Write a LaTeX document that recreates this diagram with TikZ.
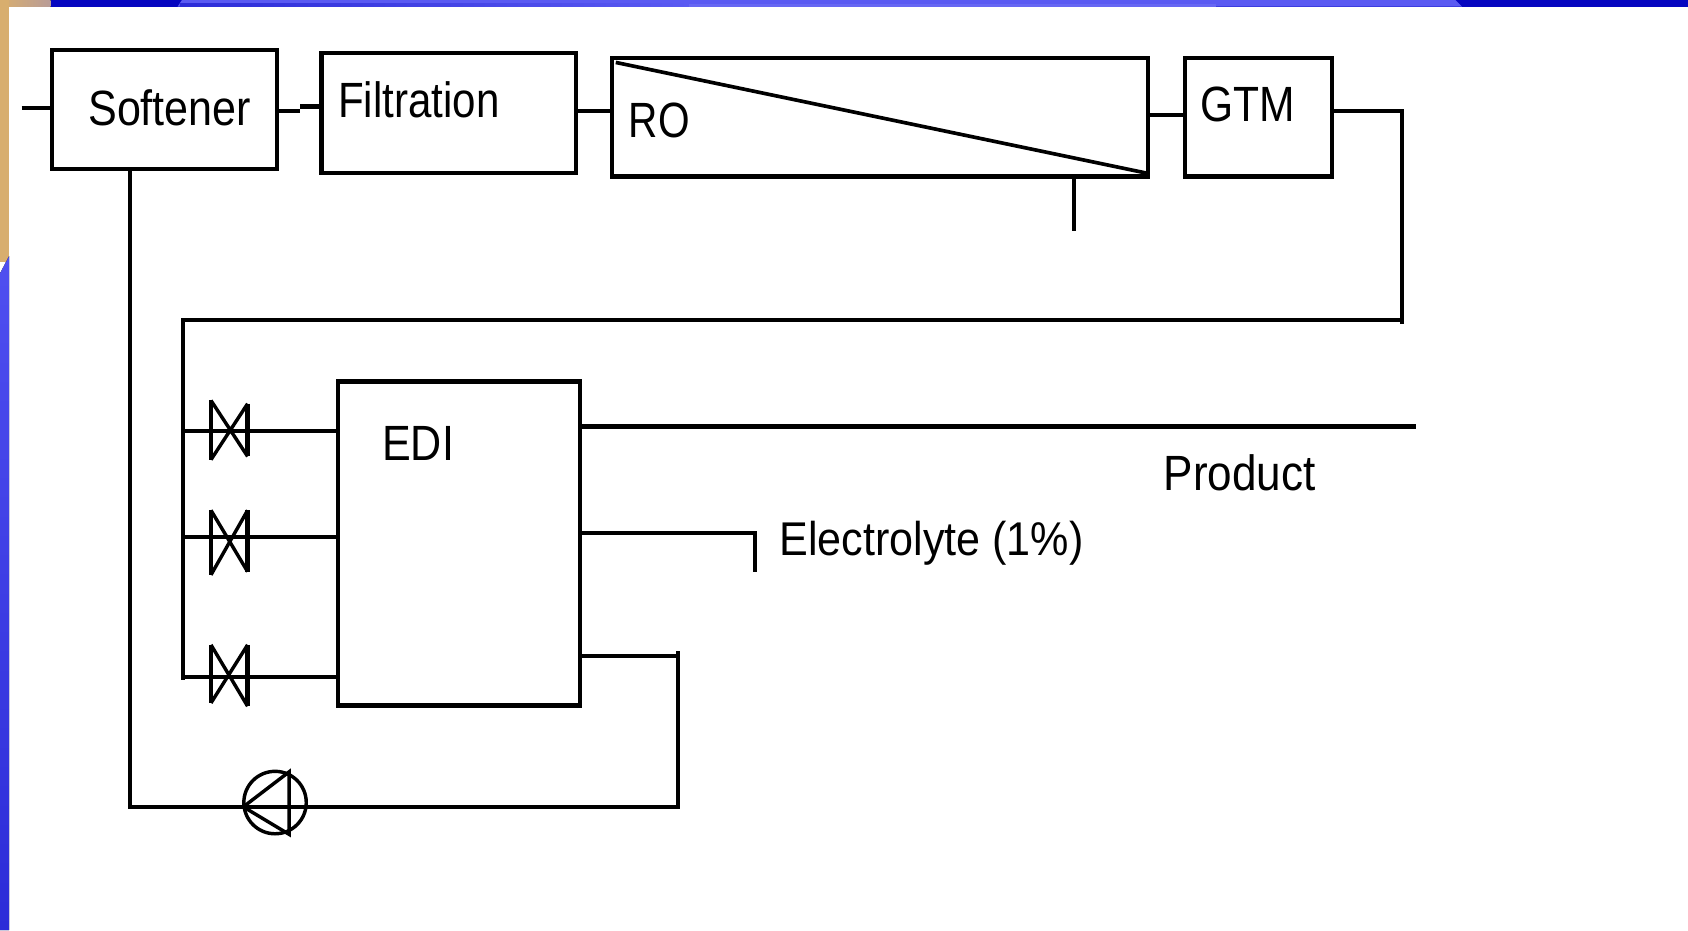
\documentclass[tikz,border=0pt]{standalone}
\usepackage{fontspec}
\usepackage{graphicx}
\setmainfont{Liberation Sans}
\definecolor{tan1}{HTML}{D8AE6E}
\definecolor{tan2}{HTML}{B89C98}
\definecolor{navy1}{HTML}{0606C0}
\definecolor{blue1}{HTML}{5A5AF2}
\definecolor{blue2}{HTML}{2C2CD8}
\definecolor{blue3}{HTML}{4F4FF0}
\tikzset{
  x=1pt,y=-1pt,
  boxnode/.style={draw=black,line width=4pt,fill=none,outer sep=0pt,inner sep=0pt,anchor=north west},
  flow/.style={draw=black,line width=3.9pt,line join=miter},
  label/.style={anchor=base west,inner sep=0pt,outer sep=0pt,font=\fontsize{46}{46}\selectfont},
  valvebar/.style={draw=black,line width=4pt},
  valvecross/.style={draw=black,line width=3.2pt}
}
\begin{document}
\begin{tikzpicture}
\useasboundingbox (0,0) rectangle (1568,864);
% slide background
\fill[white] (0,0) rectangle (1568,864);
\fill[left color=tan1,right color=tan2] (0,0) rectangle (47,6.2);
\fill[navy1] (47,0) rectangle (1568,6.2);
\fill[blue1] (169,0) -- (1352,0) -- (1358,6.2) -- (165,6.2) -- cycle;
\fill[left color=blue2,right color=blue1] (167,3.5) rectangle (640,6.2);
\fill[blue1!92!white] (640,3.5) rectangle (1130,6.2);
\fill[tan1] (0,0) rectangle (8.4,243);
\fill[top color=blue3,bottom color=blue2] (0,254) -- (8.4,238) -- (8.4,864) -- (0,864) -- cycle;
% boxes
\node[boxnode,minimum width=209.5pt,minimum height=111pt] (softener) at (48,46.3) {};
\node[boxnode,minimum width=236.5pt,minimum height=111pt] (filtration) at (298.7,49.5) {};
\node[boxnode,minimum width=497.5pt,minimum height=110pt] (ro) at (568.7,54) {};
\node[boxnode,minimum width=136.7pt,minimum height=110pt] (gtm) at (1100.5,54) {};
\node[boxnode,minimum width=225pt,minimum height=301pt] (edi) at (314,354.3) {};
% labels
\node[label] (tsoft) at (82,117) {\scalebox{.87}[1]{Softener}};
\node[label] (tfilt) at (314,109) {\scalebox{.85}[1]{Filtration}};
\node[label] (tro) at (584,128) {\scalebox{.82}[1]{RO}};
\node[label] (tgtm) at (1115,113) {\scalebox{.86}[1]{GTM}};
\node[label] (tedi) at (355,428) {\scalebox{.87}[1]{EDI}};
\node[label] (tprod) at (1081,456) {\scalebox{.89}[1]{Product}};
\node[label,font=\fontsize{44}{44}\selectfont] (telec) at (724,516) {\scalebox{.91}[1]{Electrolyte (1\%)}};
% free ends and junction coordinates
\coordinate (feed) at (20,100);
\coordinate (stepA) at (279,103);
\coordinate (stepB) at (279,99);
\coordinate (rofilt) at (0,103);
\coordinate (rogtm) at (0,107);
\coordinate (drain) at (997.5,215);
\coordinate (gtmout) at (1302,103);
\coordinate (busTop) at (1302,297.5);
\coordinate (busEnd) at (1302,301);
\coordinate (busL) at (170,297.5);
\coordinate (busB) at (170,632);
\coordinate (prod) at (1315,396.5);
\coordinate (elA) at (701.5,495);
\coordinate (elB) at (701.5,531);
\coordinate (recA) at (630,609);
\coordinate (recTop) at (630,605);
\coordinate (recB) at (630,749.5);
\coordinate (softL) at (121,749.5);
\coordinate (pump) at (255.5,745.5);
\coordinate (pumpApex) at (226,749.5);
\coordinate (pumpT) at (268.5,717);
\coordinate (pumpD) at (268.5,775);
\coordinate (v1) at (213.5,400.5);
\coordinate (v2) at (213.5,498.5);
\coordinate (v3) at (213.5,628.5);
\coordinate (memA) at (572,58);
\coordinate (memB) at (1066,161);
% connectors
\draw[flow] (feed) -- (softener.west |- feed);
\draw[flow] (softener.east |- stepA) -- (stepA);
\draw[flow] (stepB) -- (filtration.west |- stepB);
\draw[flow] (filtration.east |- rofilt) -- (ro.west |- rofilt);
\draw[flow] (ro.east |- rogtm) -- (gtm.west |- rogtm);
\draw[flow] (ro.south -| drain) -- (drain);
\draw[flow] (gtm.east |- gtmout) -- (gtmout) -- (busEnd);
\draw[flow] (busTop) -- (busL) -- (busB);
\draw[flow] (softener.south -| softL) -- (softL) -- (recB) -- (recTop);
\draw[flow] (edi.east |- recA) -- (recA);
\draw[draw=black,line width=4.8pt] (edi.east |- prod) -- (prod);
\draw[flow] (edi.east |- elA) -- (elA) -- (elB);
\draw[flow] (busL |- v1) -- (edi.west |- v1);
\draw[flow] (busL |- v2) -- (edi.west |- v2);
\draw[flow] (busL |- v3) -- (edi.west |- v3);
% RO membrane
\draw[flow,line width=3.4pt] (memA) -- (memB);
% valves
\draw[valvebar] (196,372) -- (196,427);
\draw[valvebar] (230,375) -- (230,424);
\draw[valvecross] (196,372) -- (230,424) (230,375) -- (196,427);
\draw[valvebar] (196,474) -- (196,534);
\draw[valvebar] (230,474) -- (230,531);
\draw[valvecross] (196,474) -- (230,531) (230,474) -- (196,534);
\draw[valvebar] (196,599) -- (196,653);
\draw[valvebar] (230,599) -- (230,656);
\draw[valvecross] (196,599) -- (230,656) (230,599) -- (196,653);
% pump
\draw[draw=black,line width=3.2pt] (pump) circle[radius=29];
\draw[draw=black,line width=3.2pt] (pumpT) -- (pumpD) -- (pumpApex) -- cycle;
\end{tikzpicture}
\end{document}
